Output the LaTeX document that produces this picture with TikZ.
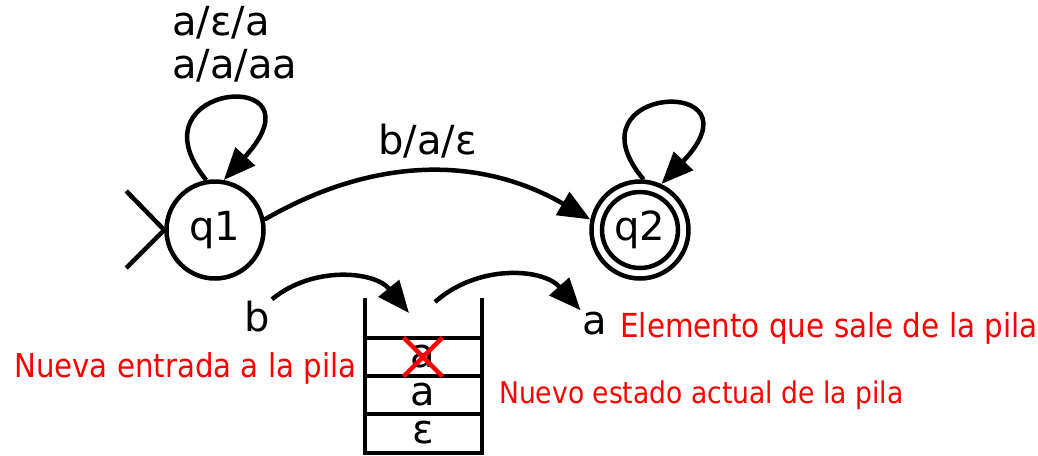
\documentclass[tikz,border=0pt]{standalone}
\usepackage{fontspec}
\setmainfont{DejaVu Sans}
\newfontfamily\notefont[FakeStretch=0.89]{DejaVu Sans}
\usetikzlibrary{arrows.meta}

\tikzset{
  state/.style={circle, draw, minimum size=0.97cm, inner sep=0pt},
  sym/.style={inner sep=0pt},
  note/.style={text=red, font=\notefont\fontsize{8.5}{10}\selectfont, inner sep=0pt, anchor=base west},
}

\begin{document}
\begin{tikzpicture}[line width=0.045cm, >={Triangle[length=3.2mm,width=2.6mm]},
    font=\fontsize{11.4}{12}\selectfont] %[scale=0.8]
  \useasboundingbox (0,0) rectangle (10.38,4.55);
  \node[state] (q1) at (2.15,2.25) {q1};
  \node[state] (q2) at (6.40,2.25) {q2};
  \draw (q2.center) circle (0.38);
  % start mark
  \draw (q1.west) -- +(-0.38,0.39);
  \draw (q1.west) -- +(-0.38,-0.38);
  % loops
  \draw [->] (q1.100) .. controls +(-0.8,0.98) and +(1.05,1.15) .. (q1.80);
  \node[align=left, anchor=base west, inner sep=0pt] (l11) at (1.70,3.77) {a/ε/a\\a/a/aa};
  \draw [->] (q2.86) .. controls +(-0.8,0.95) and +(1.05,1.1) .. (q2.65);
  \draw [->] (q1.12) to[bend left=30] node[above] (l12) {b/a/ε} (q2.168);
  % stack
  \draw (3.65,1.57) -- (3.65,0.02) -- (4.82,0.02) -- (4.82,1.57);
  \foreach \y in {1.17,0.79,0.41}
    \draw (3.65,\y) -- (4.82,\y);
  \node (s1) at (4.23,0.98) {a};
  \node (s2) at (4.23,0.60) {a};
  \node (s3) at (4.23,0.22) {ε};
  \draw [red] (s1.center) +(-0.195,0.195) -- +(0.195,-0.195);
  \draw [red] (s1.center) +(-0.195,-0.195) -- +(0.195,0.195);
  % push / pop
  \node[sym] (b) at (2.57,1.38) {b};
  \node[sym] (out) at (5.95,1.31) {a};
  \coordinate (push) at (4.09,1.42);
  \coordinate (pop) at (4.35,1.53);
  \draw [->] (b.north east) to[bend left=45] (push);
  \draw [->] (pop) to[bend left=45] (out.north west);
  \node[note, font=\notefont\fontsize{9.4}{11}\selectfont] (n1) at (6.18,1.18) {Elemento que sale de la pila};
  \node[note, font=\notefont\fontsize{9.35}{11}\selectfont] (n2) at (0.12,0.78) {Nueva entrada a la pila};
  \node[note] (n3) at (4.97,0.52) {Nuevo estado actual de la pila};
\end{tikzpicture}
\end{document}
